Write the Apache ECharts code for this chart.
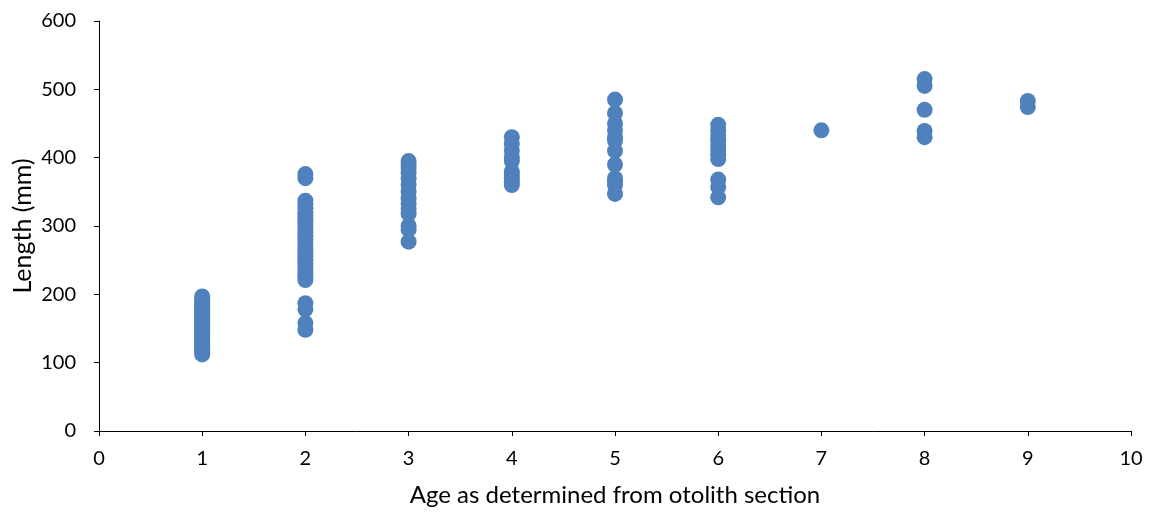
<!DOCTYPE html>
<html>
<head>
<meta charset="utf-8">
<script src="https://cdn.jsdelivr.net/npm/echarts@6/dist/echarts.min.js"></script>
<style>html,body{margin:0;padding:0;background:#fff}#c{width:1151px;height:512px}</style>
</head>
<body>
<div id="c"></div>
<script>
var xTitle = 'Age as determined from otolith section';
var yTitle = 'Length (mm)';
var age1 = [112,115,118,121,124,127,130,133,136,139,142,145,148,151,154,157,160,163,166,169,172,175,178,181,184,187,190,193,197];
var age2 = [376,370,337,332,326,320,315,310,305,300,295,290,285,280,275,270,265,260,255,250,245,240,235,230,226,221,187,178,158,148];
var age3 = [395,390,385,378,370,360,350,340,333,325,318,300,295,277];
var age4 = [430,420,410,400,395,380,375,370,365,360];
var age5 = [485,465,450,440,430,425,410,390,370,365,360,347];
var age6 = [448,440,432,425,418,412,405,398,368,357,342];
var age7 = [440];
var age8 = [515,505,470,439,430];
var age9 = [483,474];

var groups = [age1, age2, age3, age4, age5, age6, age7, age8, age9];
var points = [];
groups.forEach(function (g, i) { g.forEach(function (v) { points.push([i + 1, v]); }); });

var font = 'Lato, "Open Sans", sans-serif';
var chart = echarts.init(document.getElementById('c'));
chart.setOption({
  animation: false,
  grid: { left: 99, right: 20, top: 21, bottom: 81, containLabel: false, outerBoundsMode: 'none' },
  xAxis: {
    type: 'value', min: 0, max: 10, interval: 1,
    name: xTitle, nameLocation: 'middle', nameGap: 52, nameMoveOverlap: false,
    nameTextStyle: { color: '#000', fontSize: 24, fontFamily: font },
    axisLine: { lineStyle: { color: '#000', width: 1 } },
    axisTick: { show: true, length: 5, lineStyle: { color: '#000' } },
    axisLabel: { color: '#000', fontSize: 20, fontFamily: font, margin: 18 },
    splitLine: { show: false }
  },
  yAxis: {
    type: 'value', min: 0, max: 600, interval: 100,
    name: yTitle, nameLocation: 'middle', nameGap: 64, nameRotate: 90, nameMoveOverlap: false,
    nameTextStyle: { color: '#000', fontSize: 25, fontFamily: font },
    axisLine: { show: true, lineStyle: { color: '#000', width: 1 } },
    axisTick: { show: true, length: 5, lineStyle: { color: '#000' } },
    axisLabel: { color: '#000', fontSize: 20, fontFamily: font, margin: 23 },
    splitLine: { show: false }
  },
  series: [{
    type: 'scatter',
    data: points,
    symbol: 'circle',
    symbolSize: 16,
    itemStyle: { color: '#4F81BD', opacity: 1 }
  }]
});
</script>
</body>
</html>
